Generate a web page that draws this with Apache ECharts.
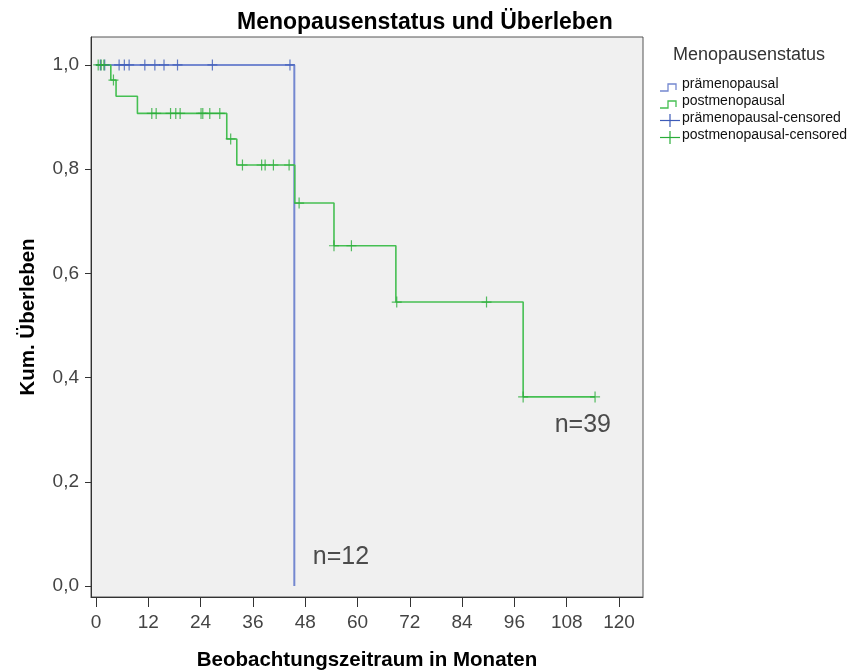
<!DOCTYPE html>
<html><head><meta charset="utf-8">
<script src="https://cdn.jsdelivr.net/npm/echarts@6/dist/echarts.min.js"></script>
<style>html,body{margin:0;padding:0;background:#fff}#c{width:856px;height:671px}</style>
</head><body><div id="c"></div>
<script>
// ---- data ----
const xTicks = [0, 12, 24, 36, 48, 60, 72, 84, 96, 108, 120];
const yTicks = [0, 0.2, 0.4, 0.6, 0.8, 1.0];

// prämenopausal
const preEventTimes = [45.5];
const preEventSurv  = [0.0];
const preEndTime = 45.5;
const preCensored = [1.0, 2.0, 5.3, 6.5, 7.6, 11.2, 13.5, 15.6, 18.7, 26.7, 44.5];

// postmenopausal
const postEventTimes = [3.4, 4.6, 9.5, 30.0, 32.3, 45.6, 54.6, 68.8, 98.0];
const postEventSurv  = [0.971, 0.940, 0.907, 0.858, 0.808, 0.735, 0.653, 0.545, 0.363];
const postEndTime = 114.5;
const postCensored = [0.5, 1.2, 1.8, 4.0, 12.8, 13.8, 17.1, 18.3, 19.3, 24.1, 24.5, 26.1, 28.4, 30.9,
                      33.6, 38.0, 38.8, 40.7, 44.3, 46.6, 54.6, 58.6, 69.0, 89.6, 98.0, 114.5];

const nLabels = [{text: 'n=39', x: 111.7, y: 0.308}, {text: 'n=12', x: 56.2, y: 0.056}];

// ---- helpers ----
function stepLine(times, surv, end) {
  const pts = [[0, 1]];
  let s = 1;
  times.forEach((t, i) => { pts.push([t, s]); s = surv[i]; pts.push([t, s]); });
  if (end > times[times.length - 1]) pts.push([end, s]);
  return pts;
}
function survAt(times, surv, t) {
  let s = 1;
  times.forEach((tt, i) => { if (tt <= t) s = surv[i]; });
  return s;
}
const blueLine = '#7488d0', blueMark = '#3d5bb8';
const greenLine = '#45bf52', greenMark = '#2aad3a';
const plusSym = 'path://M4.4,0 H5.6 V11 H4.4 Z M0,4.9 H10 V6.1 H0 Z';

const chart = echarts.init(document.getElementById('c'), null, {renderer: 'canvas'});
const FONT = 'Liberation Sans, Arial, sans-serif';

chart.setOption({
  animation: false,
  title: {
    text: 'Menopausenstatus und Überleben', left: 232, top: 6,
    textStyle: {fontFamily: FONT, fontSize: 23, fontWeight: 'bold', color: '#000'}
  },
  grid: {left: 91, right: 213, top: 37, bottom: 74, show: true, containLabel: false,
         outerBoundsMode: 'none',
         backgroundColor: '#f0f0f0', borderColor: '#555', borderWidth: 1},
  xAxis: {
    type: 'value', min: -1.15, max: 125.5,
    name: 'Beobachtungszeitraum in Monaten', nameLocation: 'middle', nameGap: 53,
    nameTextStyle: {fontFamily: FONT, fontSize: 20.5, fontWeight: 'bold', color: '#000'},
    axisLine: {show: true, onZero: false, lineStyle: {color: '#333'}},
    axisTick: {show: true, inside: false, length: 10, customValues: xTicks, lineStyle: {color: '#333'}},
    axisLabel: {customValues: xTicks, margin: 16, fontFamily: FONT, fontSize: 19, color: '#444',
                formatter: v => String(v)},
    splitLine: {show: false}
  },
  yAxis: {
    type: 'value', min: -0.021, max: 1.0536,
    name: 'Kum. Überleben', nameLocation: 'middle', nameGap: 52,
    nameTextStyle: {fontFamily: FONT, fontSize: 20.5, fontWeight: 'bold', color: '#000'},
    axisLine: {show: true, onZero: false, lineStyle: {color: '#333'}},
    axisTick: {show: true, length: 6, customValues: yTicks, lineStyle: {color: '#333'}},
    axisLabel: {customValues: yTicks, margin: 12, fontFamily: FONT, fontSize: 19, color: '#444',
                formatter: v => v.toFixed(1).replace('.', ',')},
    splitLine: {show: false}
  },
  series: [
    {name: 'prämenopausal', type: 'line', data: stepLine(preEventTimes, preEventSurv, preEndTime),
     showSymbol: false, lineStyle: {color: blueLine, width: 2}, z: 2},
    {name: 'postmenopausal', type: 'line', data: stepLine(postEventTimes, postEventSurv, postEndTime),
     showSymbol: false, lineStyle: {color: greenLine, width: 1.6}, z: 3},
    {name: 'prämenopausal-censored', type: 'scatter', symbol: plusSym, symbolSize: [10, 11],
     itemStyle: {color: blueMark}, z: 4,
     data: preCensored.map(t => [t, survAt(preEventTimes, preEventSurv, t)])},
    {name: 'postmenopausal-censored', type: 'scatter', symbol: plusSym, symbolSize: [10, 11],
     itemStyle: {color: greenMark}, z: 5,
     data: postCensored.map(t => [t, survAt(postEventTimes, postEventSurv, t)])},
    {type: 'scatter', symbolSize: 0, silent: true, z: 6,
     data: nLabels.map(d => ({value: [d.x, d.y], label: {show: true, formatter: d.text, position: 'inside',
       fontFamily: FONT, fontSize: 25, color: '#222'}}))}
  ],
  graphic: [
    {type: 'text', left: 673, top: 46, style: {text: 'Menopausenstatus', font: '18px ' + FONT, fill: '#333'}},
    {type: 'polyline', shape: {points: [[660, 91], [668, 91], [668, 84], [676, 84], [676, 90]]},
     style: {stroke: blueLine, lineWidth: 1.3, fill: null}},
    {type: 'text', left: 682, top: 77, style: {text: 'prämenopausal', font: '14px ' + FONT, fill: '#111'}},
    {type: 'polyline', shape: {points: [[660, 108], [668, 108], [668, 101], [676, 101], [676, 107]]},
     style: {stroke: greenLine, lineWidth: 1.3, fill: null}},
    {type: 'text', left: 682, top: 94, style: {text: 'postmenopausal', font: '14px ' + FONT, fill: '#111'}},
    {type: 'line', shape: {x1: 660, y1: 120.5, x2: 680, y2: 120.5}, style: {stroke: blueMark, lineWidth: 1.2}},
    {type: 'line', shape: {x1: 670, y1: 114, x2: 670, y2: 127}, style: {stroke: blueMark, lineWidth: 1.2}},
    {type: 'text', left: 682, top: 111, style: {text: 'prämenopausal-censored', font: '14px ' + FONT, fill: '#111'}},
    {type: 'line', shape: {x1: 660, y1: 137.5, x2: 680, y2: 137.5}, style: {stroke: greenMark, lineWidth: 1.2}},
    {type: 'line', shape: {x1: 670, y1: 131, x2: 670, y2: 144}, style: {stroke: greenMark, lineWidth: 1.2}},
    {type: 'text', left: 682, top: 128, style: {text: 'postmenopausal-censored', font: '14px ' + FONT, fill: '#111'}}
  ]
});
</script></body></html>
